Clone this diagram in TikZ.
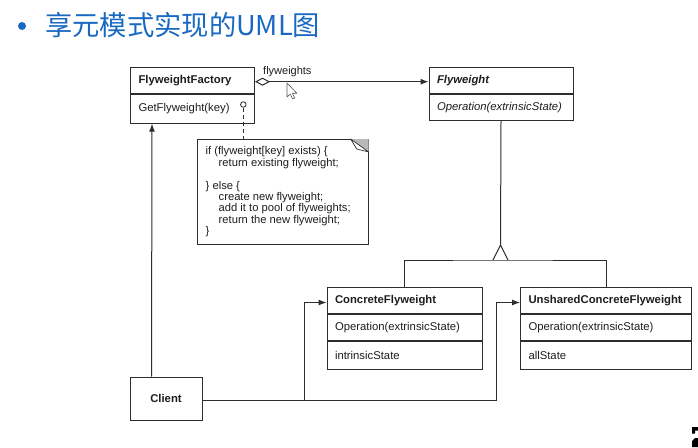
\documentclass[tikz,border=0pt]{standalone}
\usepackage{fontspec}
\setmainfont{Liberation Sans}
\newfontfamily\cjkfont{Noto Sans CJK SC}
\usetikzlibrary{arrows.meta,calc}
\definecolor{titleblue}{RGB}{25,105,195}
\definecolor{ln}{RGB}{45,45,45}
\definecolor{tx}{RGB}{30,30,30}
\begin{document}
\begin{tikzpicture}[x=1pt,y=-1pt,
  comp/.style={draw=ln, line width=1pt, anchor=north west, inner xsep=8pt, inner ysep=0pt,
    align=left, font=\fontsize{11.3}{13}\selectfont, text=tx},
  ttl/.style={comp, font=\fontsize{11.3}{13}\selectfont\bfseries},
  conn/.style={draw=ln, line width=1pt},
  arr/.style={conn, -{Latex[length=8pt,width=6pt]}},
]
\useasboundingbox (0,0) rectangle (698,447);
\fill[white] (0,0) rectangle (698,447);

% title
\fill[titleblue] (22,26) circle (4);
\node[anchor=west, inner sep=0pt, text=titleblue, font=\cjkfont\fontsize{27.3}{30}\selectfont] (title) at (45,25) {享元模式实现的UML图};

% FlyweightFactory
\node[ttl, text width=108pt, minimum height=26pt] (fft) at (130,66.7) {FlyweightFactory};
\node[comp, text width=108pt, minimum height=29pt] (ffo) at (fft.south west) {GetFlyweight(key)};

% Flyweight
\node[ttl, font=\fontsize{11.3}{13}\selectfont\bfseries\itshape, text width=128pt, minimum height=26pt] (fwt) at (428.5,66.7) {Flyweight};
\node[comp, font=\fontsize{11.3}{13}\selectfont\itshape, text width=128pt, minimum height=26.5pt] (fwo) at (fwt.south west) {Operation(extrinsicState)};

% ConcreteFlyweight
\node[ttl, text width=139pt, minimum height=26.6pt] (cft) at (326.5,286.7) {ConcreteFlyweight};
\node[comp, text width=139pt, minimum height=26pt] (cfo) at (cft.south west) {Operation(extrinsicState)};
\node[comp, text width=139pt, minimum height=27.4pt] (cfs) at (cfo.south west) {intrinsicState};

% UnsharedConcreteFlyweight
\node[ttl, text width=155pt, minimum height=26.6pt] (uct) at (520,286.7) {UnsharedConcreteFlyweight};
\node[comp, text width=155pt, minimum height=26pt] (uco) at (uct.south west) {Operation(extrinsicState)};
\node[comp, text width=155pt, minimum height=27.4pt] (ucs) at (uco.south west) {allState};

% Client
\node[draw=ln, line width=1pt, minimum width=72pt, minimum height=43pt, text=tx,
  font=\fontsize{11.3}{13}\selectfont\bfseries] (cl) at (166,398.5) {Client};

% Note
\node[anchor=north west, minimum width=171pt, minimum height=105pt, inner sep=0pt] (note) at (197.3,139) {};
\draw[conn, fill=white] (note.north west) rectangle (note.south east);
\fill[gray!55] ([xshift=-18pt]note.north east) -- (note.north east) -- ([yshift=-13pt]note.north east) -- cycle;
\draw[draw=ln, line width=0.7pt, fill=white, line join=round] ([xshift=-18pt]note.north east) -- ([xshift=-12pt,yshift=-10pt]note.north east) -- ([yshift=-13pt]note.north east) -- cycle;
\node[anchor=north west, inner sep=0pt, align=left, text=tx, font=\fontsize{11.2}{11.4}\selectfont] (nt) at (205.5,146.5)
{if (flyweight[key] exists) \{\\
\hspace*{13pt}return existing flyweight;\\[11.4pt]
\} else \{\\
\hspace*{13pt}create new flyweight;\\
\hspace*{13pt}add it to pool of flyweights;\\
\hspace*{13pt}return the new flyweight;\\
\}};

% lollipop to note
\node[circle, draw=ln, line width=0.8pt, inner sep=0pt, minimum size=5.5pt, fill=white] (lol) at (243.3,104.5) {};
\draw[conn, dash pattern=on 4pt off 3pt] (lol.south) -- (lol.south |- note.north);

% aggregation
\draw[conn, {Diamond[open,length=15pt,width=8pt]}-{Latex[length=8pt,width=6pt]}] ([yshift=-1.5pt]fft.east) -- ([yshift=-1.5pt]fwt.west);
\node[anchor=south west, inner sep=1pt, text=tx, font=\fontsize{11}{13}\selectfont] (lbl) at ([xshift=7pt,yshift=2pt]fft.east) {flyweights};

% Client -> Factory
\draw[arr] ([xshift=22pt]cl.north west) -- ([xshift=22pt]ffo.south west);

% inheritance
\coordinate (tt) at (500.5,245);
\coordinate (tb) at (500.5,260);
\draw[conn] (fwo.south) -- (tt);
\draw[conn, line join=miter] ([xshift=-7.5pt]tb) -- (tt) -- ([xshift=7.5pt]tb);
\draw[conn] (cft.north) |- (tb) -| (uct.north);

% Client -> concrete classes
\coordinate (j1) at (304,400);
\coordinate (j2) at (496.7,400);
\draw[conn] (cl.east |- j1) -- (j2);
\draw[arr] (j1) |- ([yshift=-2pt]cft.west);
\draw[arr] (j2) |- ([yshift=-2pt]uct.west);

% mouse cursor
\draw[draw=gray!70!black, fill=white, line width=0.6pt, line join=round]
  (287,83) -- (287,97) -- (290.3,94) -- (292.6,99) -- (294.6,98.1) -- (292.4,93.2) -- (296.8,93.2) -- cycle;

% corner fragment
\fill[black] (692,427) -- (698,427) -- (698,430.5) -- (695,430.5) -- (695,433.5) -- (692,433.5) -- cycle;
\fill[black] (692,447) -- (692,441) -- (695,438) -- (698,438) -- (698,447) -- cycle;
\end{tikzpicture}
\end{document}
